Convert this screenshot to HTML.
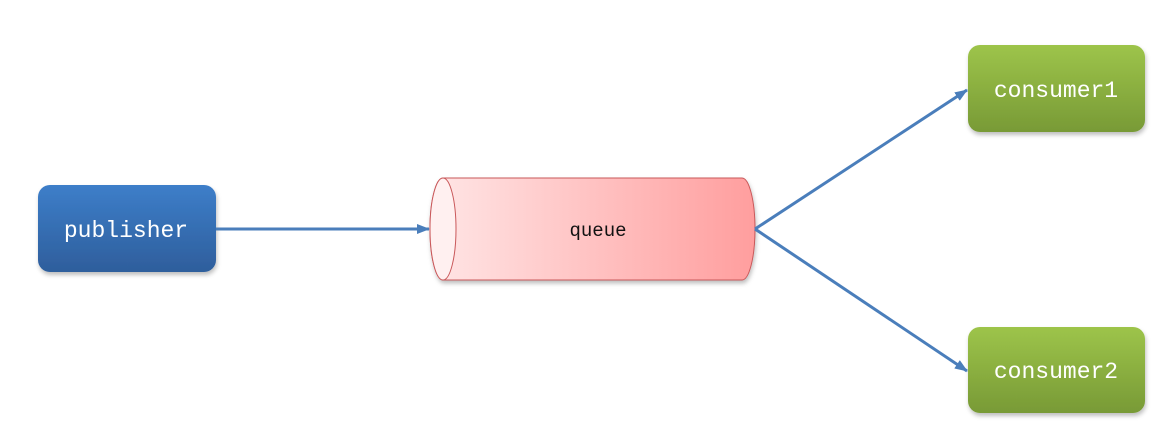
<!DOCTYPE html>
<html><head><meta charset="utf-8"><style>html,body{margin:0;padding:0;background:#fff;width:1165px;height:432px;overflow:hidden}</style></head>
<body>
<svg width="1165" height="432" viewBox="0 0 1165 432" xmlns="http://www.w3.org/2000/svg">
<defs>
<linearGradient id="gb" x1="0" y1="0" x2="0" y2="1"><stop offset="0" stop-color="#3d7ec9"/><stop offset="1" stop-color="#2e5e9c"/></linearGradient>
<linearGradient id="gg" x1="0" y1="0" x2="0" y2="1"><stop offset="0" stop-color="#9dc44a"/><stop offset="1" stop-color="#789a36"/></linearGradient>
<linearGradient id="gr" x1="0" y1="0" x2="1" y2="0"><stop offset="0" stop-color="#ffe6e6"/><stop offset="1" stop-color="#ff9e9e"/></linearGradient>
<filter id="sh" x="-10%" y="-10%" width="130%" height="140%"><feDropShadow dx="1" dy="3" stdDeviation="2" flood-color="#000" flood-opacity="0.25"/></filter>
<marker id="ar" markerWidth="13" markerHeight="10" refX="12" refY="5" orient="auto" markerUnits="userSpaceOnUse"><path d="M0,0 L13,5 L0,10 Z" fill="#4a7ebb"/></marker>
</defs>
<rect x="38" y="185" width="178" height="87" rx="12" fill="url(#gb)" filter="url(#sh)"/>
<text x="126" y="237" text-anchor="middle" font-family="Liberation Mono, monospace" font-size="23" fill="#fff">publisher</text>
<rect x="968" y="45" width="177" height="87" rx="12" fill="url(#gg)" filter="url(#sh)"/>
<text x="1056" y="97" text-anchor="middle" font-family="Liberation Mono, monospace" font-size="23" fill="#fff">consumer1</text>
<rect x="968" y="327" width="177" height="86" rx="12" fill="url(#gg)" filter="url(#sh)"/>
<text x="1056" y="378" text-anchor="middle" font-family="Liberation Mono, monospace" font-size="23" fill="#fff">consumer2</text>
<g filter="url(#sh)">
<path d="M443,178 L742,178 A13,51 0 0 1 742,280 L443,280 A13,51 0 0 1 443,178 Z" fill="url(#gr)" stroke="#c9585a" stroke-width="1"/>
</g>
<ellipse cx="443" cy="229" rx="13" ry="51" fill="#fff0f0" stroke="#c9585a" stroke-width="1"/>
<text x="598" y="236" text-anchor="middle" font-family="Liberation Mono, monospace" font-size="19" fill="#111">queue</text>
<line x1="216" y1="229" x2="429" y2="229" stroke="#4a7ebb" stroke-width="3" marker-end="url(#ar)"/>
<line x1="755" y1="229" x2="967" y2="90" stroke="#4a7ebb" stroke-width="3" marker-end="url(#ar)"/>
<line x1="755" y1="229" x2="967" y2="371" stroke="#4a7ebb" stroke-width="3" marker-end="url(#ar)"/>
</svg>
</body></html>
